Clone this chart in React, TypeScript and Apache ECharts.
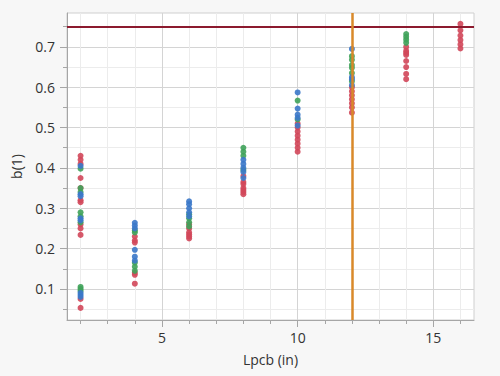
import React, { useEffect, useRef } from "react";
import * as echarts from "echarts";

const levels = [2, 4, 6, 8, 10, 12, 14, 16];

const redValues: number[][] = [
  [0.43, 0.42, 0.41, 0.375, 0.35, 0.32, 0.315, 0.26, 0.25, 0.234, 0.075, 0.053],
  [0.23, 0.22, 0.215, 0.14, 0.135, 0.113],
  [0.26, 0.25, 0.24, 0.235, 0.23, 0.225],
  [0.38, 0.365, 0.36, 0.35, 0.345, 0.34, 0.335],
  [0.51, 0.5, 0.49, 0.48, 0.47, 0.46, 0.45, 0.44],
  [0.6, 0.59, 0.58, 0.57, 0.56, 0.55, 0.537],
  [0.7, 0.69, 0.685, 0.68, 0.665, 0.65, 0.633, 0.62],
  [0.757, 0.741, 0.728, 0.717, 0.706, 0.696],
];

const greenValues: number[][] = [
  [0.398, 0.35, 0.34, 0.29, 0.28, 0.265, 0.105, 0.1, 0.095],
  [0.245, 0.24, 0.165, 0.155, 0.145],
  [0.285, 0.275, 0.265, 0.255],
  [0.45, 0.44, 0.43, 0.395],
  [0.567, 0.52],
  [0.677, 0.668, 0.655, 0.648, 0.635, 0.615],
  [0.732, 0.725, 0.718, 0.71],
  [],
];

const blueValues: number[][] = [
  [0.405, 0.335, 0.33, 0.275, 0.27, 0.09, 0.085, 0.08],
  [0.264, 0.257, 0.25, 0.197, 0.18, 0.17],
  [0.317, 0.31, 0.3, 0.29, 0.28],
  [0.42, 0.41, 0.4, 0.39, 0.375],
  [0.587, 0.547, 0.532, 0.524, 0.505],
  [0.695, 0.625, 0.62, 0.605],
  [],
  [],
];

const xMinorTicks = [2, 3, 4, 5, 6, 7, 8, 9, 10, 11, 12, 13, 14, 15, 16];
const xMajorTicks = [5, 10, 15];
const yMinorTicks = [0.05, 0.1, 0.15, 0.2, 0.25, 0.3, 0.35, 0.4, 0.45, 0.5, 0.55, 0.6, 0.65, 0.7, 0.75];
const yMajorTicks = [0.1, 0.2, 0.3, 0.4, 0.5, 0.6, 0.7];

const limitY = 0.75;
const refX = 12;

function toPairs(vals: number[][]): number[][] {
  const out: number[][] = [];
  vals.forEach((arr, i) => arr.forEach((v) => out.push([levels[i], v])));
  return out;
}

const FONT = "'Open Sans', 'Noto Sans', sans-serif";

export default function App() {
  const ref = useRef<HTMLDivElement>(null);
  useEffect(() => {
    document.body.style.margin = "0";
    if (!ref.current) return;
    const chart = echarts.init(ref.current, undefined, { renderer: "svg" });
    const axisColor = "#a6a6a6";
    const minorGrid = "#ececec";
    const majorGrid = "#d4d4d4";
    chart.setOption({
      animation: false,
      backgroundColor: "#f7f7f7",
      grid: {
        left: 67,
        right: 26,
        top: 13,
        bottom: 56,
        show: true,
        backgroundColor: "#ffffff",
        borderColor: "#cfcfcf",
        borderWidth: 1,
      },
      xAxis: [
        {
          type: "value",
          min: 1.5,
          max: 16.5,
          position: "bottom",
          name: "Lpcb (in)",
          nameLocation: "middle",
          nameGap: 32,
          nameTextStyle: { color: "#333", fontSize: 14, fontFamily: FONT },
          axisLine: { show: true, lineStyle: { color: axisColor } },
          axisTick: { show: true, customValues: xMinorTicks, length: 4, lineStyle: { color: axisColor } },
          axisLabel: { customValues: xMajorTicks, color: "#333", fontSize: 14, fontFamily: FONT, margin: 10 },
          splitLine: { show: true, lineStyle: { color: minorGrid } },
        },
        {
          type: "value",
          min: 1.5,
          max: 16.5,
          position: "bottom",
          axisLine: { show: false },
          axisTick: { show: true, customValues: xMajorTicks, length: 7, lineStyle: { color: axisColor } },
          axisLabel: { show: false },
          splitLine: { show: true, lineStyle: { color: majorGrid } },
        },
      ],
      yAxis: [
        {
          type: "value",
          min: 0.023,
          max: 0.784,
          position: "left",
          name: "b(1)",
          nameLocation: "middle",
          nameGap: 44,
          nameTextStyle: { color: "#333", fontSize: 14, fontFamily: FONT },
          axisLine: { show: true, lineStyle: { color: axisColor } },
          axisTick: { show: true, customValues: yMinorTicks, length: 4, lineStyle: { color: axisColor } },
          axisLabel: { customValues: yMajorTicks, color: "#333", fontSize: 14, fontFamily: FONT, margin: 12 },
          splitLine: { show: true, lineStyle: { color: minorGrid } },
        },
        {
          type: "value",
          min: 0.023,
          max: 0.784,
          position: "left",
          axisLine: { show: false },
          axisTick: { show: true, customValues: yMajorTicks, length: 7, lineStyle: { color: axisColor } },
          axisLabel: { show: false },
          splitLine: { show: true, lineStyle: { color: majorGrid } },
        },
      ],
      series: [
        {
          type: "scatter",
          name: "red",
          xAxisIndex: 0,
          yAxisIndex: 0,
          symbolSize: 6,
          itemStyle: { color: "#d2475a", opacity: 0.9 },
          data: toPairs(redValues),
          markLine: {
            silent: true,
            symbol: "none",
            label: { show: false },
            data: [
              { yAxis: limitY, lineStyle: { color: "#8c1a2e", width: 2, type: "solid" } },
              { xAxis: refX, lineStyle: { color: "#d9892a", width: 2.5, type: "solid" } },
            ],
          },
        },
        {
          type: "scatter",
          name: "green",
          xAxisIndex: 0,
          yAxisIndex: 0,
          symbolSize: 6,
          itemStyle: { color: "#3fa25a", opacity: 0.9 },
          data: toPairs(greenValues),
        },
        {
          type: "scatter",
          name: "blue",
          xAxisIndex: 0,
          yAxisIndex: 0,
          symbolSize: 6,
          itemStyle: { color: "#3b78c9", opacity: 0.9 },
          data: toPairs(blueValues),
        },
      ],
    });
    return () => chart.dispose();
  }, []);
  return <div ref={ref} style={{ width: 500, height: 376 }} />;
}
